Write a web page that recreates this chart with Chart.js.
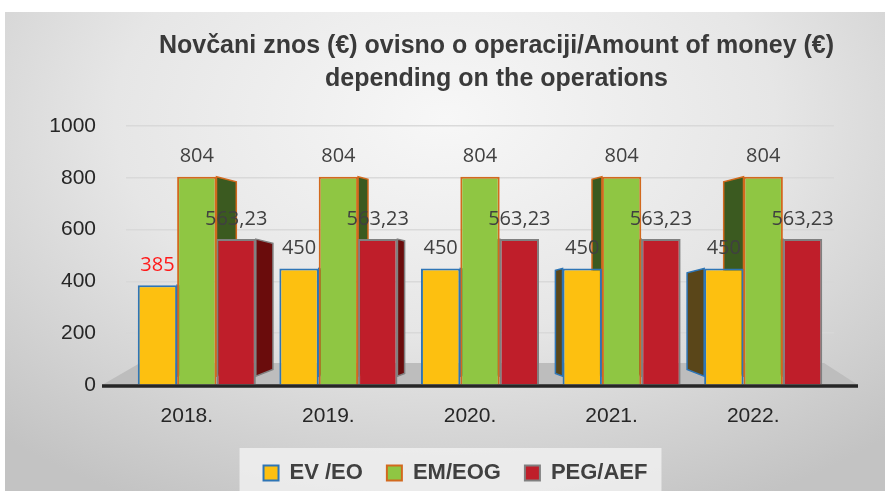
<!DOCTYPE html>
<html><head><meta charset="utf-8">
<script src="https://cdn.jsdelivr.net/npm/chart.js@4/dist/chart.umd.min.js"></script>
<style>
html,body{margin:0;padding:0;background:#fff;width:885px;height:491px;overflow:hidden}
#panel{position:absolute;left:5px;top:12px;width:880px;height:479px;
background:radial-gradient(ellipse 75% 90% at 50% 22%, #f7f7f7 0%, #e6e6e6 50%, #c3c3c3 100%);}
canvas{display:block}
</style></head><body>
<div id="panel"><canvas id="c" width="880" height="479"></canvas></div>
<script>
const categories = ['2018.', '2019.', '2020.', '2021.', '2022.'];
const seriesNames = ['EV /EO', 'EM/EOG', 'PEG/AEF'];
const evEo = [385, 450, 450, 450, 450];
const emEog = [804, 804, 804, 804, 804];
const pegAef = [563.23, 563.23, 563.23, 563.23, 563.23];
const yTicks = [0, 200, 400, 600, 800, 1000];
const titleLines = ['Novčani znos (€) ovisno o operaciji/Amount of money (€)', 'depending on the operations'];

const sans = '"Liberation Sans", Arial, sans-serif';
const sideColors = ['#5a4619', '#3b5a20', '#6a0c0c'];

// shift title / legend boxes horizontally to match the original layout
const boxShift = {
  id: 'boxShift',
  afterLayout(chart) {
    const t = chart.titleBlock;
    if (t) { t.left += 77; t.right += 77; }
    const lg = chart.legend;
    if (lg) { lg.left += 36; lg.right += 36; lg.top += 3; lg.bottom += 3; }
  }
};

const floorPlugin = {
  id: 'floor',
  beforeDatasetsDraw(chart) {
    const ctx = chart.ctx, a = chart.chartArea;
    const y0 = chart.scales.y.getPixelForValue(0);
    ctx.save();
    ctx.fillStyle = '#bdbdbd';
    ctx.beginPath();
    ctx.moveTo(a.left - 24, y0);
    ctx.lineTo(a.right + 24, y0);
    ctx.lineTo(a.right - 10, y0 - 22);
    ctx.lineTo(a.left + 14, y0 - 22);
    ctx.closePath();
    ctx.fill();
    ctx.strokeStyle = '#262626';
    ctx.lineWidth = 3.5;
    ctx.beginPath();
    ctx.moveTo(a.left - 24, y0 + 1);
    ctx.lineTo(a.right + 24, y0 + 1);
    ctx.stroke();
    // side faces (perspective), derived from bar elements
    const vpX = (a.left + a.right) / 2;
    chart.data.datasets.forEach((ds, i) => {
      const meta = chart.getDatasetMeta(i);
      meta.data.forEach(bar => {
        const p = bar.getProps(['x', 'y', 'width', 'base'], true);
        const off = p.x - vpX;
        const w = Math.abs(off) * 0.07;
        if (w < 2) return;
        const dir = off < 0 ? 1 : -1;
        const edge = off < 0 ? p.x + p.width / 2 : p.x - p.width / 2;
        ctx.fillStyle = sideColors[i];
        ctx.strokeStyle = ds.borderColor;
        ctx.lineWidth = 1.5;
        ctx.beginPath();
        ctx.moveTo(edge, p.y);
        ctx.lineTo(edge + dir * w, p.y + w * 0.25);
        ctx.lineTo(edge + dir * w, p.base - 8 - w * 0.4);
        ctx.lineTo(edge, p.base - 8);
        ctx.closePath();
        ctx.fill();
        ctx.stroke();
      });
    });
    ctx.restore();
  }
};

const legendBg = {
  id: 'legendBg',
  beforeDraw(chart) {
    const lg = chart.legend;
    if (!lg || !lg.legendHitBoxes || !lg.legendHitBoxes.length) return;
    const hb = lg.legendHitBoxes;
    const l = Math.min(...hb.map(h => h.left)) - 24;
    const r = Math.max(...hb.map(h => h.left + h.width)) + 14;
    const t = Math.min(...hb.map(h => h.top)) - 14;
    const ctx = chart.ctx;
    ctx.save();
    ctx.fillStyle = 'rgba(240,240,240,0.85)';
    ctx.fillRect(l, t, r - l, chart.height - t);
    ctx.restore();
  }
};

const valueLabels = {
  id: 'valueLabels',
  afterDatasetsDraw(chart) {
    const ctx = chart.ctx;
    ctx.save();
    ctx.font = '20px "Open Sans", sans-serif';
    ctx.textAlign = 'center';
    ctx.textBaseline = 'middle';
    chart.data.datasets.forEach((ds, i) => {
      const meta = chart.getDatasetMeta(i);
      meta.data.forEach((bar, j) => {
        const v = ds.data[j];
        ctx.fillStyle = (i === 0 && j === 0) ? '#ff1a1a' : '#404040';
        ctx.fillText(String(v).replace('.', ','), bar.x, bar.y - 20);
      });
    });
    ctx.restore();
  }
};

new Chart(document.getElementById('c'), {
  type: 'bar',
  data: {
    labels: categories,
    datasets: [
      { label: seriesNames[0], data: evEo, backgroundColor: '#FDC010', borderColor: '#2E75B6', borderWidth: 2 },
      { label: seriesNames[1], data: emEog, backgroundColor: '#8FC643', borderColor: '#D2691E', borderWidth: 2 },
      { label: seriesNames[2], data: pegAef, backgroundColor: '#BF1E2A', borderColor: '#808080', borderWidth: 2 }
    ]
  },
  options: {
    responsive: false,
    devicePixelRatio: 1,
    animation: false,
    layout: { padding: { left: 0, right: 51, top: 0, bottom: 0 } },
    datasets: { bar: { categoryPercentage: 0.834, barPercentage: 1.0 } },
    plugins: {
      title: {
        display: true,
        text: titleLines,
        color: '#3a3a3a',
        font: { family: sans, size: 25, weight: 'bold', lineHeight: 1.3 },
        padding: { top: 18, bottom: 31 }
      },
      legend: {
        position: 'bottom',
        labels: {
          boxWidth: 15, boxHeight: 15, padding: 24, color: '#404040',
          font: { family: sans, size: 22, weight: 'bold' }
        }
      },
      tooltip: { enabled: false }
    },
    scales: {
      x: {
        grid: { display: false },
        border: { display: false },
        afterFit(scale) { scale.height = 50; },
        ticks: { color: '#262626', font: { family: sans, size: 21 }, padding: 11, labelOffset: -10 }
      },
      y: {
        min: 0, max: 1000,
        afterBuildTicks(scale) { scale.ticks = yTicks.map(v => ({ value: v })); },
        afterFit(scale) { scale.width = 121; },
        grid: { color: 'rgba(215,215,215,0.9)', lineWidth: 1.5, drawTicks: false },
        border: { display: false },
        ticks: { color: '#262626', font: { family: sans, size: 21 }, padding: 30,
                 callback: v => String(v) }
      }
    }
  },
  plugins: [boxShift, legendBg, floorPlugin, valueLabels]
});
</script>
</body></html>
